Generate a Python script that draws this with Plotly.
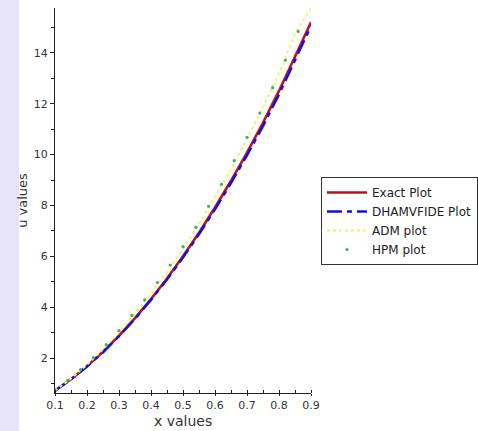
import plotly.graph_objects as go

# ---- data ----
x_exact = [0.10, 0.15, 0.20, 0.25, 0.30, 0.35, 0.40, 0.45, 0.50, 0.55,
           0.60, 0.65, 0.70, 0.75, 0.80, 0.85, 0.90]
u_exact = [0.72, 1.17, 1.68, 2.25, 2.88, 3.57, 4.32, 5.13, 6.00, 6.93,
           7.92, 8.97, 10.08, 11.25, 12.50, 13.85, 15.20]
u_dham = [0.72, 1.16, 1.67, 2.23, 2.86, 3.54, 4.29, 5.09, 5.95, 6.87,
          7.85, 8.88, 9.97, 11.12, 12.36, 13.70, 15.05]
u_adm = [0.72, 1.20, 1.74, 2.35, 3.02, 3.75, 4.54, 5.39, 6.30, 7.27,
         8.32, 9.43, 10.62, 11.87, 13.20, 14.75, 15.75]
x_hpm = [0.10, 0.14, 0.18, 0.22, 0.26, 0.30, 0.34, 0.38, 0.42, 0.46,
         0.50, 0.54, 0.58, 0.62, 0.66, 0.70, 0.74, 0.78, 0.82, 0.86]
u_hpm = [0.74, 1.13, 1.55, 2.02, 2.53, 3.08, 3.68, 4.29, 4.97, 5.66,
         6.38, 7.14, 7.97, 8.83, 9.76, 10.68, 11.63, 12.63, 13.71, 14.84]

x_ticks = [0.1, 0.2, 0.3, 0.4, 0.5, 0.6, 0.7, 0.8, 0.9]
y_ticks = [2, 4, 6, 8, 10, 12, 14]

FONT = "DejaVu Sans, Verdana, sans-serif"

fig = go.Figure()
fig.add_trace(go.Scatter(x=x_exact, y=u_exact, mode="lines", name="Exact Plot",
                         line=dict(color="#b5161b", width=2.6)))
fig.add_trace(go.Scatter(x=x_exact, y=u_dham, mode="lines", name="DHAMVFIDE Plot",
                         line=dict(color="#1010e0", width=2.4, dash="15px,5px,5px,5px")))
fig.add_trace(go.Scatter(x=x_exact, y=u_adm, mode="lines", name="ADM plot",
                         line=dict(color="#f4f070", width=2, dash="dot")))
fig.add_trace(go.Scatter(x=x_hpm, y=u_hpm, mode="markers", name="HPM plot",
                         marker=dict(color="#3fae6a", size=3.2, symbol="circle")))

# light lavender watermark band on the left edge
px = lambda p: (p - 55) / 256.0
py = lambda p: (393 - p) / 385.0
shapes = [
    dict(type="rect", xref="paper", yref="paper", x0=px(0), x1=px(19), y0=py(431), y1=py(0),
         fillcolor="#e6e3f9", line=dict(width=0), layer="below"),
]

fig.update_layout(
    width=478, height=431,
    margin=dict(l=55, r=167, t=8, b=38, autoexpand=False),
    paper_bgcolor="white", plot_bgcolor="white",
    font=dict(family=FONT, size=11, color="#333333"),
    showlegend=True,
    legend=dict(x=1.039, y=0.561, xanchor="left", yanchor="top",
                bordercolor="#333333", borderwidth=1, bgcolor="white",
                font=dict(family=FONT, size=12, color="#222222"),
                tracegroupgap=0, itemwidth=40),
    shapes=shapes,
    annotations=[dict(text="x values", xref="paper", yref="paper", x=0.5, y=py(421),
                      xanchor="center", yanchor="middle", showarrow=False,
                      font=dict(family=FONT, size=14, color="#333333"))],
    xaxis=dict(range=[0.1, 0.9], tickvals=x_ticks, ticktext=[str(v) for v in x_ticks],
               automargin=False,
               showgrid=False, zeroline=False, showline=True, linecolor="#222222", linewidth=1.2,
               ticks="outside", ticklen=2, tickcolor="#222222",
               minor=dict(dtick=0.05, tick0=0.1, ticks="inside", ticklen=3, tickcolor="#222222"),
               tickfont=dict(size=11, color="#333333")),
    yaxis=dict(range=[0.63, 15.76], tickvals=y_ticks, ticktext=[str(v) for v in y_ticks],
               automargin=False,
               showgrid=False, zeroline=False, showline=True, linecolor="#222222", linewidth=1.2,
               ticks="outside", ticklen=4, tickcolor="#222222",
               minor=dict(tickvals=[1, 3, 5, 7, 9, 11, 13, 15], ticks="outside", ticklen=3, tickcolor="#222222"),
               tickfont=dict(size=11, color="#333333"),
               title=dict(text="u values", font=dict(size=13, color="#333333"), standoff=3)),
)

fig.write_html("out.html", config={"displayModeBar": False},
               post_script="document.body.style.margin='0';document.body.style.overflow='hidden';")
